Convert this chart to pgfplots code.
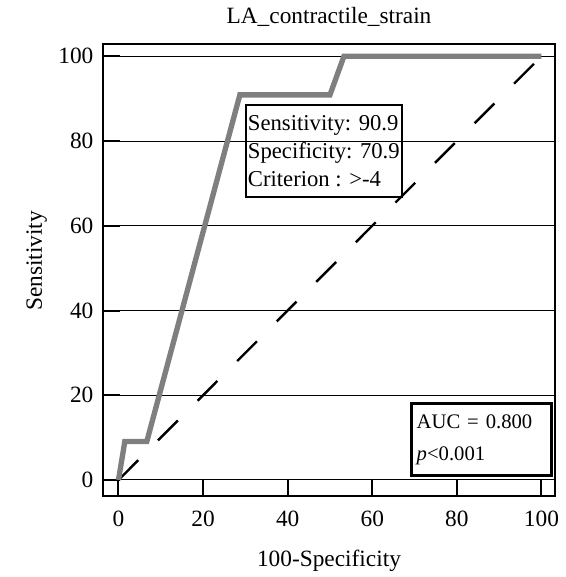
\documentclass[border=0pt]{standalone}
\usepackage{pgfplots}
\pgfplotsset{compat=1.18}
\usepackage{fontspec}
\setmainfont{Liberation Serif}

\definecolor{roc}{HTML}{7F7F7F}

\begin{document}
\fontsize{17.5}{21}\selectfont
\begin{tikzpicture}
\begin{axis}[name=ax, scale only axis, width=339pt, height=339pt,
  xmin=-3.66, xmax=103.2, ymin=-3.78, ymax=102.9,
  xtick={0,20,...,100}, ytick={0,20,...,100},
  xtick pos=bottom, ytick pos=left,
  tick align=inside, major tick length=13pt,
  tick style={black, line width=1.5pt},
  axis line style={black, line width=2.2pt},
  ymajorgrids, grid style={black, line width=0.75pt},
  /pgf/number format/assume math mode=true,
  ticklabel style={font=\fontsize{17.5}{20}\selectfont},
  xticklabel style={anchor=base, inner sep=0pt, yshift=-23pt},
  yticklabel style={anchor=east, inner sep=0pt, xshift=-7pt},
  title={LA\_contractile\_strain},
  title style={at={(axis description cs:0.5,1.027)}, anchor=base, inner sep=0pt},
  xlabel={100-Specificity},
  xlabel style={at={(axis description cs:0.5,-0.157)}, anchor=base, inner sep=0pt},
  ylabel={Sensitivity},
  ylabel style={at={(axis description cs:-0.135,0.52)}, anchor=base, inner sep=0pt},
  clip=false]
% reference diagonal
\addplot[black, line width=1.8pt, dash pattern=on 21pt off 21pt] coordinates {(0,0) (100,100)};
% ROC curve
\addplot[roc, line width=4pt, line join=miter] coordinates {
  (0,0) (1.5,9.09) (6.7,9.09) (28.7,90.9) (50.0,90.9) (53.3,100) (100,100)};
\node[draw=black, line width=1.5pt, anchor=north west, align=left,
  minimum width=114pt, minimum height=69pt, inner xsep=1.5pt, inner ysep=4pt,
  font=\fontsize{17}{21}\selectfont]
  at (axis cs:29.9,88.8)
  {Sensitivity: 90.9\\Specificity: 70.9\\Criterion : >-4};
\node[draw=black, line width=2.2pt, anchor=north west, align=left,
  text width=97pt, minimum height=54pt, inner xsep=4pt, inner ysep=6pt,
  font=\fontsize{15.5}{24}\selectfont]
  at (axis cs:68.9,18.3)
  {AUC = 0.800\\\textit{p}<0.001};
\end{axis}
\path (ax.south west) ++(-77.25pt,-60.75pt) coordinate (bl);
\path (ax.north east) ++(7.5pt,33pt) coordinate (tr);
\path (bl) rectangle (tr);
\end{tikzpicture}
\end{document}
